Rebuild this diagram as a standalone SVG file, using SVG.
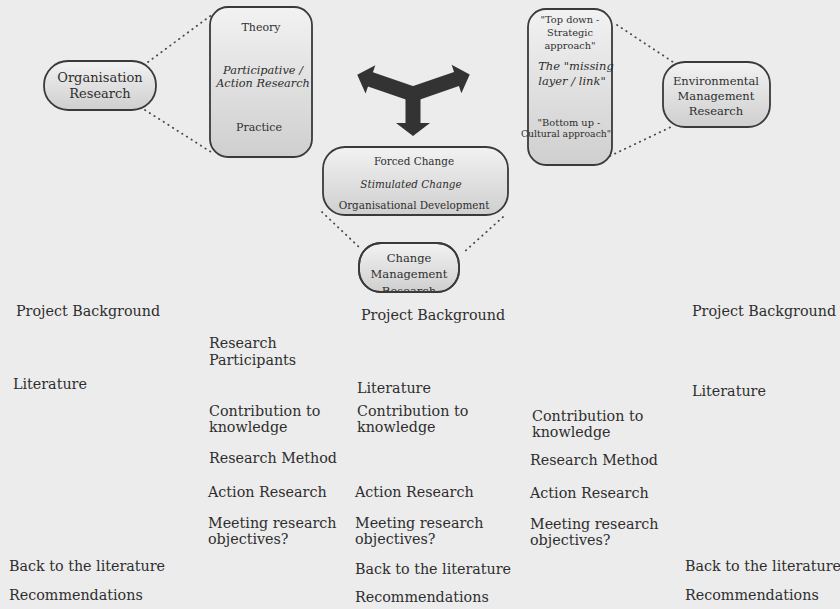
<svg xmlns="http://www.w3.org/2000/svg" width="840" height="609" viewBox="0 0 840 609">
  <defs>
    <linearGradient id="boxFill" x1="0" y1="0" x2="0" y2="1">
      <stop offset="0" stop-color="#f2f2f2"/>
      <stop offset="1" stop-color="#cfcfcf"/>
    </linearGradient>
    <clipPath id="changeClip">
      <rect x="359" y="243" width="100" height="49" rx="22"/>
    </clipPath>
  </defs>
  <style>
    .box { fill: url(#boxFill); stroke: #3a3a3a; stroke-width: 1.8; }
    .t { font-family: "DejaVu Serif", "Liberation Serif", serif; fill: #2e2e2e; text-anchor: middle; }
    .it { font-style: italic; }
    .dot { fill: none; stroke: #4a4a4a; stroke-width: 1.8; stroke-dasharray: 0.5 5; stroke-linecap: round; }
    .col { font-family: "DejaVu Serif", "Liberation Serif", serif; font-size: 14.3px; fill: #2e2e2e; }
    .arrow { fill: #333333; }
  </style>

  <rect width="840" height="609" fill="#ececec"/>

  <!-- dotted connectors -->
  <g id="connectors">
    <line class="dot" x1="148" y1="62" x2="213" y2="14"/>
    <line class="dot" x1="145" y1="110" x2="211" y2="152"/>
    <line class="dot" x1="617" y1="25" x2="673" y2="62"/>
    <line class="dot" x1="610" y1="156" x2="673" y2="126"/>
    <line class="dot" x1="322" y1="212" x2="360" y2="248"/>
    <line class="dot" x1="503" y1="217" x2="463" y2="253"/>
  </g>

  <!-- three-way arrow -->
  <g id="split-arrow" class="arrow">
    <path transform="translate(413,94) rotate(90)" d="M-8,-7.5 L29,-7.5 L29,-17 L42,0 L29,17 L29,7.5 L-8,7.5 Z"/>
    <path transform="translate(413,94) rotate(199)" d="M-8,-7.5 L45,-7.5 L45,-15 L59,0 L45,15 L45,7.5 L-8,7.5 Z"/>
    <path transform="translate(413,94) rotate(-19)" d="M-8,-7.5 L46,-7.5 L46,-15 L60,0 L46,15 L46,7.5 L-8,7.5 Z"/>
  </g>

  <g id="organisation-research">
    <rect class="box" x="44" y="61" width="112" height="49" rx="24"/>
    <text class="t" x="100" y="82" font-size="13">Organisation</text>
    <text class="t" x="100" y="98" font-size="13">Research</text>
  </g>

  <g id="theory-practice">
    <rect class="box" x="210" y="7" width="102" height="150" rx="18"/>
    <text class="t" x="261" y="31" font-size="11">Theory</text>
    <text class="t it" x="263" y="74" font-size="11.3">Participative /</text>
    <text class="t it" x="263" y="87" font-size="11.3">Action Research</text>
    <text class="t" x="259" y="131" font-size="11">Practice</text>
  </g>

  <g id="approaches">
    <rect class="box" x="528" y="9" width="84" height="156" rx="18"/>
    <text class="t" x="570" y="23" font-size="9.8">"Top down -</text>
    <text class="t" x="570" y="36" font-size="9.8">Strategic</text>
    <text class="t" x="570" y="49" font-size="9.8">approach"</text>
    <text class="t it" x="576" y="70" font-size="11.5">The "missing</text>
    <text class="t it" x="572" y="85" font-size="11.5">layer / link"</text>
    <text class="t" x="569" y="126" font-size="9.8">"Bottom up -</text>
    <text class="t" x="566" y="137" font-size="9.3">Cultural approach"</text>
  </g>

  <g id="environmental-management-research">
    <rect class="box" x="663" y="62" width="107" height="65" rx="22"/>
    <text class="t" x="716" y="85" font-size="11.5">Environmental</text>
    <text class="t" x="716" y="100" font-size="11.5">Management</text>
    <text class="t" x="716" y="115" font-size="11.5">Research</text>
  </g>

  <g id="change-types">
    <rect class="box" x="323" y="147" width="185" height="68" rx="22"/>
    <text class="t" x="414" y="165" font-size="10.4">Forced Change</text>
    <text class="t it" x="411" y="188" font-size="10.4">Stimulated Change</text>
    <text class="t" x="414" y="209" font-size="10.4">Organisational Development</text>
  </g>

  <g id="change-management-research">
    <rect class="box" x="359" y="243" width="100" height="49" rx="22"/>
    <g clip-path="url(#changeClip)">
      <text class="t" x="409" y="262" font-size="11.5">Change</text>
      <text class="t" x="409" y="278" font-size="11.5">Management</text>
      <text class="t" x="409" y="295" font-size="11.5">Research</text>
    </g>
    <rect x="359" y="243" width="100" height="49" rx="22" fill="none" stroke="#3a3a3a" stroke-width="1.8"/>
  </g>

  <!-- thesis outline columns -->
  <g id="column-1" class="col">
    <text x="16" y="316">Project Background</text>
    <text x="13" y="389">Literature</text>
    <text x="9" y="571">Back to the literature</text>
    <text x="9" y="600">Recommendations</text>
  </g>

  <g id="column-2" class="col">
    <text x="209" y="348">Research</text>
    <text x="209" y="365">Participants</text>
    <text x="209" y="416">Contribution to</text>
    <text x="209" y="432">knowledge</text>
    <text x="209" y="463">Research Method</text>
    <text x="208" y="497">Action Research</text>
    <text x="208" y="528">Meeting research</text>
    <text x="208" y="544">objectives?</text>
  </g>

  <g id="column-3" class="col">
    <text x="361" y="320">Project Background</text>
    <text x="357" y="393">Literature</text>
    <text x="357" y="416">Contribution to</text>
    <text x="357" y="432">knowledge</text>
    <text x="355" y="497">Action Research</text>
    <text x="355" y="528">Meeting research</text>
    <text x="355" y="544">objectives?</text>
    <text x="355" y="574">Back to the literature</text>
    <text x="355" y="602">Recommendations</text>
  </g>

  <g id="column-4" class="col">
    <text x="532" y="421">Contribution to</text>
    <text x="532" y="437">knowledge</text>
    <text x="530" y="465">Research Method</text>
    <text x="530" y="498">Action Research</text>
    <text x="530" y="529">Meeting research</text>
    <text x="530" y="545">objectives?</text>
  </g>

  <g id="column-5" class="col">
    <text x="692" y="316">Project Background</text>
    <text x="692" y="396">Literature</text>
    <text x="685" y="571">Back to the literature</text>
    <text x="685" y="600">Recommendations</text>
  </g>
</svg>
